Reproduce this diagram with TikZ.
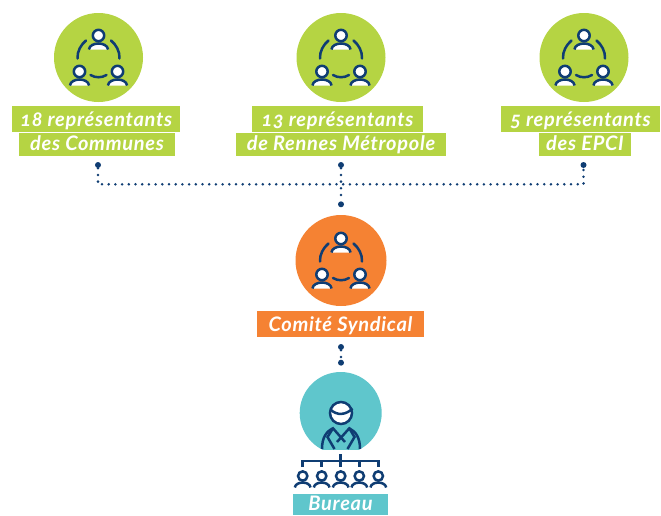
\documentclass[tikz,border=0pt]{standalone}
\usepackage{fontspec}
\setmainfont{Lato}[LetterSpace=3.5,Numbers=OldStyle]
\usetikzlibrary{positioning}
\definecolor{navy}{HTML}{0F3D73}
\definecolor{leaf}{HTML}{B5D443}
\definecolor{peach}{HTML}{F58233}
\definecolor{lagoon}{HTML}{5FC6CC}
\tikzset{
 disc/.style={circle,fill=#1,minimum size=89pt,inner sep=0pt},
 tag/.style={fill=#1,text=white,font=\fontsize{20}{20}\selectfont\bfseries\itshape,
  inner sep=0pt,text height=20pt,text depth=6.3pt},
 tagnext/.style={tag=#1,text height=17.3pt},
 link/.style={navy,line width=2.8pt,line cap=round,dash pattern=on 0pt off 6.7pt},
 stub/.style={circle,fill=navy,inner sep=0pt,minimum size=6pt},
 icon/.style={navy,line width=2.5pt},
 pics/person/.style={code={
  \draw[icon,fill=white] (-#1*9.6,#1*14) .. controls (-#1*8.5,#1*6) and (#1*8.5,#1*6) .. (#1*9.6,#1*14);
  \draw[icon,fill=white] (0,0) circle (#1*5.7);
 }},
 pics/team/.style={code={
  \draw[icon,line cap=round] (-21,1) .. controls (-21.5,-6) and (-17.5,-13) .. (-12.5,-17);
  \draw[icon,line cap=round] (21,1) .. controls (21.5,-6) and (17.5,-13) .. (12.5,-17);
  \draw[icon,line cap=round] (-8,17.5) .. controls (-3,20.5) and (3,20.5) .. (8,17.5);
  \pic at (0,-22) {person=1};
  \pic at (-19,14) {person=1};
  \pic at (19,14) {person=1};
 }}
}
\begin{document}
\begin{tikzpicture}[x=1pt,y=-1pt]
 \useasboundingbox (0,0) rectangle (661,515);
 \clip (0,0) rectangle (661,515);
 % top row
 \node [disc=leaf] (communes) at (98.5,57.5) {};
 \node [disc=leaf] (rennes) at (341,57.5) {};
 \node [disc=leaf] (epci) at (584,57.5) {};
 \pic at (communes) {team};
 \pic at (rennes) {team};
 \pic at (epci) {team};
 \node [tag=leaf,minimum width=168pt] (communesA) at (96.2,119.2) {18 représentants};
 \node [tagnext=leaf,minimum width=156pt,below=0pt of communesA,xshift=0.8pt] (communesB) {des Communes};
 \node [tag=leaf,minimum width=171pt] (rennesA) at (337.5,119.2) {13 représentants};
 \node [tagnext=leaf,minimum width=210pt,below=0pt of rennesA,xshift=3.5pt] (rennesB) {de Rennes Métropole};
 \node [tag=leaf,minimum width=159pt] (epciA) at (580.5,119.2) {5 représentants};
 \node [tagnext=leaf,minimum width=92pt,below=0pt of epciA,xshift=4.5pt] (epciB) {des EPCI};
 % comite
 \node [disc=peach,minimum size=91pt] (comite) at (341,260.5) {};
 \pic at (comite) {team};
 \node [tag=peach,minimum width=167pt] (comiteT) at (340.5,324.3) {Comité Syndical};
 % bureau
 \begin{scope}
  \clip (290,360) rectangle (390,449);
  \node [disc=lagoon,minimum size=82pt] (bureau) at (340.7,413) {};
 \end{scope}
 \draw [icon,fill=white] (341,413) circle (11);
 \draw [icon] (330.5,409.5) .. controls (337,416) and (346,415) .. (352.5,408.5);
 \draw [icon] (322,449) .. controls (322,438) and (326,431.5) .. (333,428.3) -- (345,442);
 \draw [icon] (360,449) .. controls (360,438) and (356,431.5) .. (349.3,428.3) -- (337,442);
 \draw [icon] (333,428.3) -- (327.5,437) -- (334.5,449);
 \draw [icon] (349.3,428.3) -- (354.5,437) -- (347.5,449);
 \draw [icon] (340.7,454) -- (340.7,467);
 \draw [icon] (302.7,467) |- (378.3,461) -- (378.3,467);
 \foreach \px in {302.7,321.7,340.7,359.3,378.3} {
  \draw [icon] (\px,461) -- (\px,467);
  \pic at (\px,476) {person=0.82};
 }
 \node [tag=lagoon,minimum width=95pt,text height=16.5pt,text depth=4.4pt] (bureauT) at (340.5,504.4) {Bureau};
 % connectors
 \node [stub] (dotA) at (98,165) {};
 \node [stub] (dotB) at (583.5,165) {};
 \node [stub] (dotF) at (341,165) {};
 \node [stub] (dotC) at (341,204.3) {};
 \node [stub] (dotD) at (341,347) {};
 \node [stub] (dotE) at (341,362.7) {};
 \coordinate (cross) at (341,184.3);
 \draw [link] (dotA) |- (cross) -| (dotB);
 \draw [link] (dotF) -- (dotC);
 \draw [link] (dotD) -- (dotE);
\end{tikzpicture}
\end{document}
